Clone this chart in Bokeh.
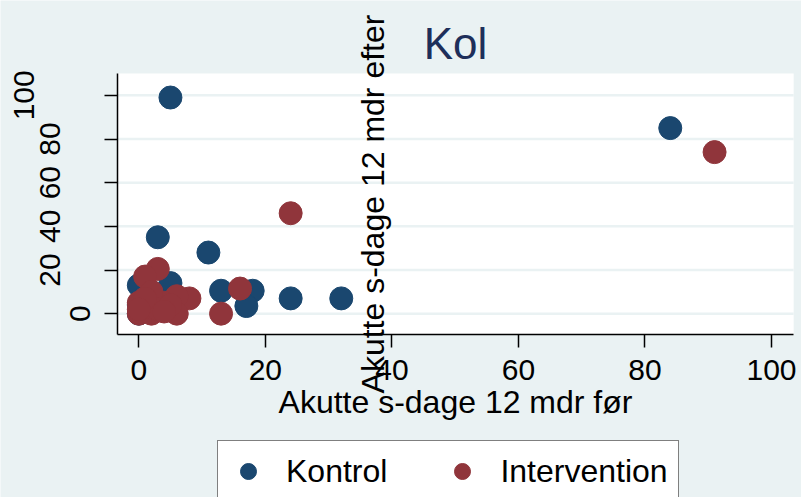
from bokeh.plotting import figure
from bokeh.models import LinearAxis, FixedTicker, BoxAnnotation, Label
from bokeh.embed import file_html
from bokeh.resources import INLINE

# ---- data ----
kontrol_x = [5, 84, 3, 11, 5, 0, 13, 18, 17, 24, 32, 0, 1, 0, 2, 3, 1, 4, 6, 2]
kontrol_y = [99, 85, 35, 28, 14, 13, 10.5, 10.5, 3.5, 7, 7, 0, 1, 4, 3, 6, 8, 2, 5, 10]

interv_x = [91, 24, 3, 1, 16, 13, 8, 6, 0, 2, 6, 0, 4, 2, 1, 3, 5, 1, 0, 4]
interv_y = [74, 46, 20.5, 17, 11.5, 0, 7, 8, 0, 0, 0, 5, 5, 10, 3, 2, 4, 7, 2, 1]

x_ticks = [0, 20, 40, 60, 80, 100]
y_ticks = [0, 20, 40, 60, 80, 100]

title_text = "Kol"
x_title = "Akutte s-dage 12 mdr før"
y_title = "Akutte s-dage 12 mdr efter"
series_names = ["Kontrol", "Intervention"]

# plot-region limits (data units); the frame covers the whole canvas
X_LO, X_HI = -3.37, 103.5
Y_LO, Y_HI = -9.5, 110
FRAME_X = (-21.86, 104.74)
FRAME_Y = (-84.2, 143.44)

BG = "#EAF2F3"
NAVY = "#1A476F"
MAROON = "#90353B"
FONT = "Liberation Sans"

p = figure(width=801, height=497, x_range=FRAME_X, y_range=FRAME_Y,
           output_backend="svg", toolbar_location=None,
           min_border=0, min_border_left=0, min_border_right=0,
           min_border_top=0, min_border_bottom=0,
           background_fill_color=BG, border_fill_color=BG, outline_line_color=None)
p.title.visible = False

# white plot region
p.add_layout(BoxAnnotation(left=X_LO, right=X_HI, bottom=Y_LO, top=Y_HI,
                           fill_color="white", fill_alpha=1.0,
                           line_color=None, level="image"))

# horizontal grid lines across the plot region
p.segment(x0=[X_LO] * len(y_ticks), x1=[X_HI] * len(y_ticks), y0=y_ticks, y1=y_ticks,
          line_color=BG, line_width=2.5, level="underlay")

p.scatter(kontrol_x, kontrol_y, size=23, marker="circle", fill_color=NAVY, line_color=NAVY,
          legend_label=series_names[0])
p.scatter(interv_x, interv_y, size=23, marker="circle", fill_color=MAROON, line_color=MAROON,
          legend_label=series_names[1])

# title
p.add_layout(Label(x=455, y=454, x_units="screen", y_units="screen", text=title_text,
                   text_align="center", text_baseline="alphabetic",
                   text_font=FONT, text_font_size="44px", text_color="#1E2F5A"))


def style_axis(ax, ticks):
    ax.ticker = FixedTicker(ticks=ticks)
    ax.axis_line_color = "black"
    ax.axis_line_width = 1.5
    ax.major_tick_line_color = "black"
    ax.major_tick_line_width = 1.5
    ax.major_tick_out = 13
    ax.major_tick_in = 0
    ax.minor_tick_line_color = None
    ax.major_label_text_font = FONT
    ax.major_label_text_font_size = "30px"
    ax.major_label_text_color = "black"


xa = p.xaxis[0]
style_axis(xa, x_ticks)
xa.fixed_location = Y_LO
xa.bounds = (X_LO, X_HI)
xa.major_label_standoff = 13
xa.axis_label = x_title
xa.axis_label_text_font = FONT
xa.axis_label_text_font_size = "32px"
xa.axis_label_text_font_style = "normal"
xa.axis_label_text_color = "black"
xa.axis_label_standoff = 0

# main y axis: ticks at all values, label only for the first one
ya = p.yaxis[0]
style_axis(ya, y_ticks)
ya.fixed_location = X_LO
ya.bounds = (Y_LO, Y_HI)
ya.major_label_orientation = "vertical"
ya.major_label_standoff = 14
ya.major_label_overrides = {t: "" for t in y_ticks[1:]}


def label_axis(ticks, loc):
    ax = LinearAxis(fixed_location=loc, ticker=FixedTicker(ticks=ticks), bounds=(Y_LO, Y_HI),
                    axis_line_color=None, major_tick_line_color=None,
                    major_tick_out=0, major_tick_in=0, minor_tick_line_color=None,
                    major_label_orientation="vertical", major_label_standoff=0,
                    major_label_text_font=FONT, major_label_text_font_size="30px",
                    major_label_text_color="black")
    p.add_layout(ax, "left")
    return ax


label_axis(y_ticks[1:5], -12.5)
label_axis(y_ticks[5:], -16.6)

# y axis title, drawn where the reference puts it
yt = LinearAxis(fixed_location=39.8, ticker=FixedTicker(ticks=[0]), bounds=(Y_LO, Y_HI),
                axis_line_color=None, major_tick_line_color=None,
                major_tick_out=0, major_tick_in=0, minor_tick_line_color=None,
                major_label_standoff=0, major_label_overrides={0: ""},
                major_label_text_font_size="1px",
                axis_label=y_title, axis_label_standoff=0,
                axis_label_text_font=FONT, axis_label_text_font_size="32px",
                axis_label_text_font_style="normal", axis_label_text_color="black")
p.add_layout(yt, "left")

p.xgrid.visible = False
p.ygrid.visible = False

lg = p.legend[0]
lg.orientation = "horizontal"
lg.location = (217, -5)
lg.padding = 10
lg.margin = 0
lg.glyph_width = 40
lg.glyph_height = 40
lg.label_standoff = 18
lg.spacing = 55
lg.label_text_font = FONT
lg.label_text_font_size = "32px"
lg.label_text_color = "black"
lg.border_line_color = "black"
lg.border_line_width = 1.5
lg.background_fill_color = "white"
lg.background_fill_alpha = 1.0

open("out.html", "w").write(file_html(p, INLINE))
